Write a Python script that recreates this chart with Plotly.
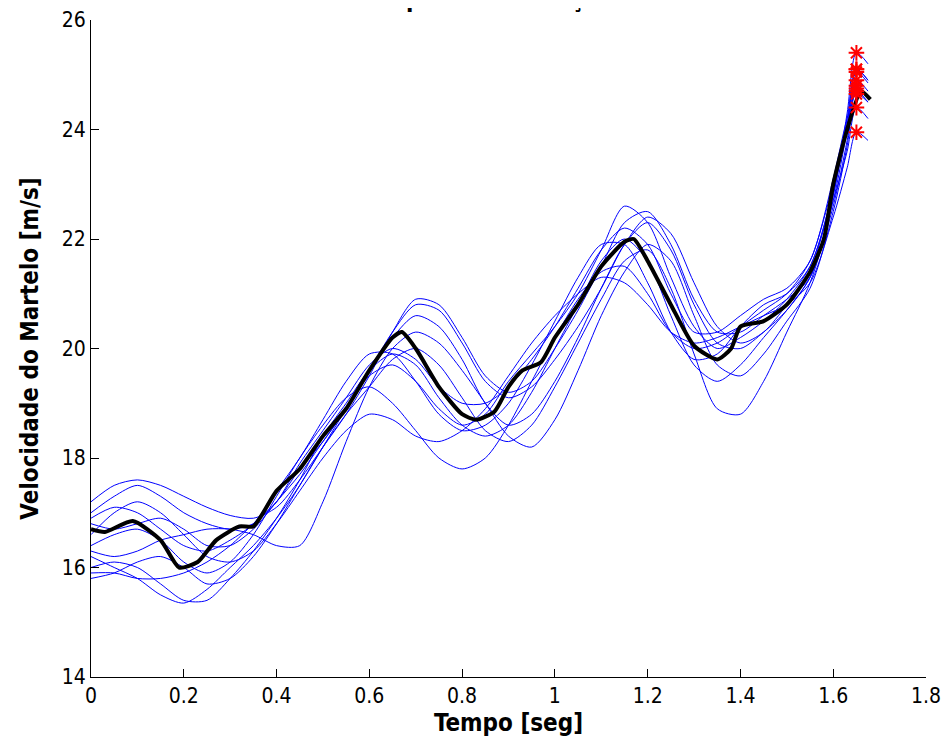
import plotly.graph_objects as go

# ---- data ----
x_grid = [0.0, 0.05, 0.1, 0.15, 0.2, 0.25, 0.3, 0.35, 0.4, 0.45, 0.5, 0.55, 0.6, 0.65,
          0.7, 0.75, 0.8, 0.85, 0.9, 0.95, 1.0, 1.05, 1.1, 1.15, 1.2, 1.25, 1.3, 1.35,
          1.4, 1.45, 1.5, 1.55, 1.6, 1.63, 1.65, 1.675]

lanc_01 = [17.2, 17.5, 17.6, 17.5, 17.3, 17.1, 16.95, 16.9, 17.1, 17.6, 18.2, 18.8, 19.5, 20.3,
           20.9, 20.8, 20.2, 19.5, 19.2, 19.4, 20.0, 20.7, 21.5, 22.3, 22.5, 21.9, 20.9, 20.3,
           20.3, 20.6, 20.9, 21.3, 22.8, 24.3, 25.4, 25.2]
lanc_02 = [16.9, 17.1, 17.0, 16.7, 16.4, 16.3, 16.5, 16.8, 17.4, 18.0, 18.7, 19.4, 19.9, 19.9,
           19.4, 18.8, 18.5, 18.6, 19.0, 19.7, 20.5, 21.3, 21.9, 21.9, 21.2, 20.3, 19.8, 19.9,
           20.4, 20.8, 21.0, 21.5, 22.9, 24.1, 25.1, 24.9]
lanc_03 = [16.2, 16.0, 15.8, 15.5, 15.35, 15.6, 16.0, 16.4, 16.9, 17.5, 18.2, 18.9, 19.6, 20.2,
           20.6, 20.4, 19.8, 19.0, 18.6, 18.8, 19.4, 20.2, 21.1, 21.9, 22.3, 21.8, 20.8, 20.1,
           20.0, 20.3, 20.7, 21.3, 22.7, 24.0, 25.05, 24.85]
lanc_04 = [16.4, 16.6, 16.7, 16.5, 16.1, 15.9, 16.1, 16.6, 17.3, 18.0, 18.6, 19.1, 19.3, 19.0,
           18.5, 18.0, 17.8, 18.0, 18.6, 19.4, 20.2, 20.9, 21.4, 21.5, 21.0, 20.3, 20.0, 20.1,
           20.4, 20.7, 21.0, 21.6, 23.0, 24.0, 24.9, 24.7]
lanc_05 = [15.8, 15.9, 16.1, 16.2, 16.0, 15.7, 15.8, 16.2, 16.8, 17.5, 18.2, 18.8, 19.3, 19.8,
           20.0, 19.7, 19.1, 18.5, 18.3, 18.6, 19.3, 20.1, 20.9, 21.6, 21.8, 21.1, 19.9, 18.9,
           18.8, 19.4, 20.3, 21.2, 22.6, 23.8, 24.8, 24.6]
lanc_06 = [16.3, 16.2, 16.3, 16.5, 16.6, 16.7, 16.7, 16.6, 16.4, 16.4, 17.2, 18.3, 19.3, 20.0,
           20.3, 20.1, 19.6, 19.0, 18.4, 18.2, 18.7, 19.6, 20.6, 21.4, 21.9, 21.6, 20.6, 19.7,
           19.5, 19.9, 20.5, 21.1, 22.5, 23.7, 24.7, 24.5]
lanc_07 = [17.0, 17.3, 17.5, 17.3, 17.0, 16.8, 16.7, 16.8, 17.2, 17.9, 18.5, 19.1, 19.7, 20.0,
           19.8, 19.3, 19.0, 19.0, 19.3, 19.8, 20.4, 21.1, 21.8, 22.2, 21.9, 21.0, 20.3, 20.3,
           20.6, 20.9, 21.1, 21.6, 23.1, 24.2, 24.65, 24.5]
lanc_08 = [16.0, 16.1, 16.0, 15.7, 15.4, 15.4, 15.8, 16.3, 16.9, 17.6, 18.4, 19.0, 19.6, 19.9,
           19.7, 19.1, 18.6, 18.4, 18.6, 19.2, 20.0, 20.8, 21.6, 22.0, 21.6, 20.6, 19.7, 19.4,
           19.7, 20.2, 20.7, 21.3, 22.7, 23.6, 24.4, 24.2]
lanc_09 = [16.6, 17.0, 17.2, 17.0, 16.6, 16.2, 16.1, 16.3, 16.8, 17.4, 18.0, 18.5, 18.8, 18.7,
           18.4, 18.3, 18.5, 18.9, 19.5, 20.1, 20.6, 21.0, 21.3, 21.2, 20.8, 20.3, 20.1, 20.2,
           20.4, 20.6, 20.8, 21.2, 22.4, 23.3, 23.95, 23.8]
lanc_10 = [16.8, 16.7, 16.8, 16.9, 16.7, 16.4, 16.4, 16.7, 17.2, 17.7, 18.3, 18.9, 19.6, 20.3,
           20.8, 20.7, 20.1, 19.4, 19.1, 19.3, 19.8, 20.4, 21.1, 21.9, 22.4, 22.1, 21.2, 20.4,
           20.1, 20.3, 20.8, 21.4, 22.9, 24.0, 24.75, 24.6]
lanc_11 = [15.9, 15.9, 15.8, 15.8, 15.9, 16.1, 16.4, 16.8, 17.2, 17.8, 18.3, 18.9, 19.5, 19.7,
           19.4, 18.9, 18.6, 18.8, 19.4, 19.9, 20.4, 21.0, 21.8, 22.6, 22.3, 21.3, 20.4, 20.0,
           20.2, 20.5, 20.9, 21.5, 22.8, 24.2, 25.1, 24.9]

lancamentos = [lanc_01, lanc_02, lanc_03, lanc_04, lanc_05, lanc_06,
               lanc_07, lanc_08, lanc_09, lanc_10, lanc_11]

x_media = [0.0, 0.03, 0.09, 0.15, 0.19, 0.23, 0.27, 0.32, 0.35, 0.4, 0.45, 0.5, 0.55, 0.6,
           0.65, 0.67, 0.7, 0.75, 0.8, 0.83, 0.87, 0.9, 0.93, 0.97, 1.0, 1.05, 1.1, 1.15,
           1.17, 1.2, 1.25, 1.3, 1.35, 1.38, 1.4, 1.45, 1.5, 1.55, 1.58, 1.6, 1.63, 1.66, 1.68]
y_media = [16.7, 16.65, 16.85, 16.5, 16.0, 16.1, 16.5, 16.75, 16.75, 17.4, 17.8, 18.4, 18.9, 19.6,
           20.2, 20.3, 20.0, 19.3, 18.8, 18.7, 18.85, 19.3, 19.6, 19.75, 20.2, 20.8, 21.5, 21.95,
           22.0, 21.6, 20.8, 20.05, 19.8, 20.0, 20.4, 20.5, 20.8, 21.4, 22.0, 23.0, 24.0, 24.7, 24.55]

x_pico = 1.65
x_ticks = [0, 0.2, 0.4, 0.6, 0.8, 1, 1.2, 1.4, 1.6, 1.8]
x_tick_text = ["0", "0.2", "0.4", "0.6", "0.8", "1", "1.2", "1.4", "1.6", "1.8"]
y_ticks = [14, 16, 18, 20, 22, 24, 26]

titulo = "Velocidade para cada lançamento"
x_label = "Tempo [seg]"
y_label = "Velocidade do Martelo [m/s]"

# ---- figure ----
fig = go.Figure()
for serie in lancamentos:
    fig.add_trace(go.Scatter(x=x_grid, y=serie, mode="lines",
                             line=dict(color="#0000ff", width=1, shape="spline", smoothing=0.8),
                             showlegend=False, hoverinfo="skip"))

fig.add_trace(go.Scatter(x=x_media, y=y_media, mode="lines",
                         line=dict(color="black", width=4, shape="spline", smoothing=0.6),
                         showlegend=False))

picos = [s[x_grid.index(x_pico)] for s in lancamentos]
fig.add_trace(go.Scatter(x=[x_pico] * len(picos), y=picos, mode="markers",
                         marker=dict(symbol="asterisk-open", size=13, color="#ff0000",
                                     line=dict(color="#ff0000", width=2)),
                         showlegend=False))

fam = "DejaVu Sans Condensed, Liberation Sans Narrow, Arial Narrow, sans-serif"
tick_font = dict(family=fam, size=21, color="black")
label_font = dict(family=fam, size=24, color="black")

fig.update_layout(
    width=952, height=749,
    margin=dict(l=83, r=34, t=12, b=80),
    plot_bgcolor="white", paper_bgcolor="white",
    xaxis=dict(range=[0, 1.8], tickvals=x_ticks, ticktext=x_tick_text, automargin=False,
               showgrid=False, zeroline=False, showline=True, linecolor="black", linewidth=1,
               ticks="inside", ticklen=8, tickcolor="black", tickfont=tick_font,
               title=dict(text="<b>" + x_label + "</b>", font=label_font, standoff=6)),
    yaxis=dict(range=[14, 26], tickvals=y_ticks, automargin=False,
               showgrid=False, zeroline=False, showline=True, linecolor="black", linewidth=1,
               ticks="inside", ticklen=8, tickcolor="black", tickfont=tick_font,
               title=dict(text="<b>" + y_label + "</b>", font=label_font, standoff=16)),
    annotations=[dict(text="<b>" + titulo + "</b>", xref="paper", yref="paper",
                      x=0.207, y=1, xanchor="left", yanchor="bottom", yshift=5,
                      showarrow=False, font=label_font)],
)

fig.write_html("out.html")
